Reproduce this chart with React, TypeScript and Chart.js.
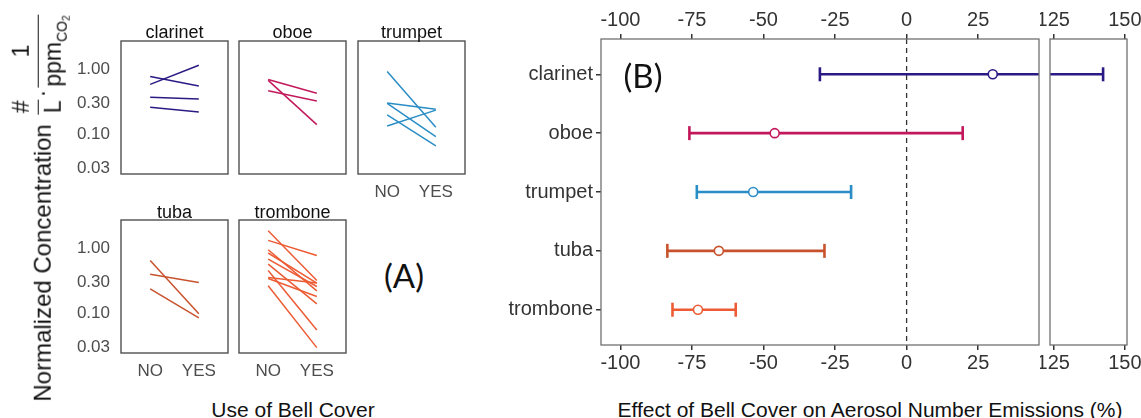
import React, { useEffect, useRef } from "react";
import { Chart, registerables } from "chart.js";

Chart.register(...registerables);

const FONT = "'Liberation Sans', Arial, Helvetica, sans-serif";
Chart.defaults.font.family = FONT;

const instruments = ["clarinet", "oboe", "trumpet", "tuba", "trombone"];
const instrumentColors = ["#2b1a84", "#c2185b", "#2a8dc5", "#c8522c", "#ec5b34"];
const bellCover = ["NO", "YES"];
const concTicks = [1.0, 0.3, 0.1, 0.03];

// Panel A: normalized concentration without (NO) and with (YES) bell cover
const clarinetNo = [0.78, 0.59, 0.374, 0.263];
const clarinetYes = [0.556, 1.16, 0.352, 0.221];
const oboeNo = [0.7, 0.47, 0.68];
const oboeYes = [0.43, 0.327, 0.142];
const trumpetNo = [0.93, 0.306, 0.3, 0.2, 0.135];
const trumpetYes = [0.129, 0.245, 0.093, 0.067, 0.237];
const tubaNo = [0.65, 0.4, 0.24];
const tubaYes = [0.099, 0.3, 0.086];
const tromboneNo = [1.87, 1.33, 0.955, 0.85, 0.687, 0.575, 0.459, 0.358, 0.346, 0.267];
const tromboneYes = [0.322, 0.78, 0.223, 0.294, 0.26, 0.141, 0.056, 0.294, 0.183, 0.03];

// Panel B: effect of bell cover (%)
const effectEstimate = [30.1, -46.1, -53.6, -65.6, -72.9];
const effectLower = [-30.3, -75.9, -73.3, -83.6, -81.8];
const effectUpper = [142.4, 19.6, -19.4, -28.7, -59.7];
const effectTicksMain = [-100, -75, -50, -25, 0, 25];
const effectTicksBreak = [125, 150];

const framePlugin = {
  id: "frame",
  afterDatasetsDraw(chart: any, _args: any, opts: any) {
    const { ctx, chartArea: a } = chart;
    ctx.save();
    ctx.strokeStyle = opts.color || "#555";
    ctx.lineWidth = opts.width || 1;
    ctx.strokeRect(a.left, a.top, a.right - a.left, a.bottom - a.top);
    ctx.restore();
  },
};

// fix an axis' thickness and stop label overflow from moving the plot area
function fixSize(show: boolean, size: number) {
  return (s: any) => {
    if (!show) return;
    if (s.isHorizontal()) s.height = size;
    else s.width = size;
    s.paddingLeft = 0;
    s.paddingRight = 0;
    s.paddingTop = 0;
    s.paddingBottom = 0;
  };
}

function ChartBox({ left, top, width, height, make }: any) {
  const ref = useRef<HTMLCanvasElement>(null);
  useEffect(() => {
    const chart = new Chart(ref.current as HTMLCanvasElement, make());
    return () => chart.destroy();
  }, []);
  return (
    <div style={{ position: "absolute", left, top, width, height }}>
      <canvas ref={ref} width={width} height={height} style={{ display: "block", width, height }} />
    </div>
  );
}

function Label({ x, y, text, size, color = "#111", family = FONT }: any) {
  return (
    <div
      style={{
        position: "absolute",
        left: x,
        top: y,
        transform: "translate(-50%,-50%)",
        whiteSpace: "nowrap",
        fontSize: size,
        lineHeight: 1,
        color,
        fontFamily: family,
      }}
    >
      {text}
    </div>
  );
}

const ML = 60, MT = 4, MR = 4, MB = 30;
const colLeft = [121, 239, 358];
const rowTop = [41, 220];
const PW = 107, PH = 133;

const panelsA = [
  { name: "clarinet", no: clarinetNo, yes: clarinetYes, col: 0, row: 0, showX: false, showY: true },
  { name: "oboe", no: oboeNo, yes: oboeYes, col: 1, row: 0, showX: false, showY: false },
  { name: "trumpet", no: trumpetNo, yes: trumpetYes, col: 2, row: 0, showX: true, showY: false },
  { name: "tuba", no: tubaNo, yes: tubaYes, col: 0, row: 1, showX: true, showY: true },
  { name: "trombone", no: tromboneNo, yes: tromboneYes, col: 1, row: 1, showX: true, showY: false },
];

function panelAConfig(p: any) {
  const color = instrumentColors[instruments.indexOf(p.name)];
  return {
    type: "scatter",
    data: {
      datasets: p.no.map((v: number, i: number) => ({
        data: [
          { x: 0, y: v },
          { x: 1, y: p.yes[i] },
        ],
        showLine: true,
        borderColor: color,
        borderWidth: 1.5,
        pointRadius: 0,
      })),
    },
    options: {
      responsive: false,
      animation: false,
      events: [],
      layout: {
        padding: { left: p.showY ? 0 : MT, top: MT, right: MR, bottom: p.showX ? 0 : MT },
      },
      plugins: {
        legend: { display: false },
        tooltip: { enabled: false },
        frame: { color: "#505050", width: 1.4 },
      },
      scales: {
        x: {
          type: "linear",
          min: -0.6,
          max: 1.6,
          display: p.showX,
          afterBuildTicks: (s: any) => {
            s.ticks = [0, 1].map((v) => ({ value: v }));
          },
          afterFit: fixSize(p.showX, MB),
          ticks: {
            callback: (v: any) => bellCover[v],
            font: { size: 17 },
            color: "#4d4d4d",
            padding: 8,
            maxRotation: 0,
            minRotation: 0,
            autoSkip: false,
          },
          grid: { display: false, drawTicks: false },
          border: { display: false },
        },
        y: {
          type: "logarithmic",
          min: 0.0248,
          max: 2.73,
          display: p.showY,
          afterBuildTicks: (s: any) => {
            s.ticks = concTicks.map((v) => ({ value: v }));
          },
          afterFit: fixSize(p.showY, ML),
          ticks: {
            callback: (v: any) => Number(v).toFixed(2),
            font: { size: 17 },
            color: "#4d4d4d",
            padding: 11,
            autoSkip: false,
          },
          grid: { display: false, drawTicks: false },
          border: { display: false },
        },
      },
    },
    plugins: [framePlugin],
  };
}

function panelBDatasets() {
  const ds: any[] = [
    {
      data: [
        { x: 0, y: 0.4 },
        { x: 0, y: 5.6 },
      ],
      showLine: true,
      borderColor: "#333",
      borderWidth: 1.3,
      borderDash: [5, 4],
      pointRadius: 0,
      order: 4,
    },
  ];
  instruments.forEach((_name, i) => {
    const c = instrumentColors[i];
    const y = i + 1;
    ds.push({
      data: [
        { x: effectLower[i], y },
        { x: effectUpper[i], y },
      ],
      showLine: true,
      borderColor: c,
      borderWidth: 2.6,
      pointRadius: 0,
      order: 3,
    });
    ds.push({
      data: [
        { x: effectLower[i], y },
        { x: effectUpper[i], y },
      ],
      showLine: false,
      pointStyle: "line",
      pointRotation: 90,
      pointRadius: 7,
      pointBorderWidth: 2.6,
      pointBorderColor: c,
      order: 2,
    });
    ds.push({
      data: [{ x: effectEstimate[i], y }],
      showLine: false,
      pointStyle: "circle",
      pointRadius: 4.5,
      pointBorderWidth: 1.6,
      pointBorderColor: c,
      pointBackgroundColor: "#ffffff",
      order: 1,
    });
  });
  return ds;
}

function panelBConfig(ticks: number[], min: number, max: number, showY: boolean, padL: number, padR: number) {
  const xAxis = (position: string, h: number, pad: number) => ({
    type: "linear",
    position,
    min,
    max,
    afterBuildTicks: (s: any) => {
      s.ticks = ticks.map((v) => ({ value: v }));
    },
    afterFit: fixSize(true, h),
    ticks: {
      font: { size: 20 },
      color: "#333",
      padding: pad,
      maxRotation: 0,
      minRotation: 0,
      autoSkip: false,
      callback: (v: any) => String(v),
    },
    grid: { display: true, drawOnChartArea: false, drawTicks: true, tickLength: 5, color: "#333", lineWidth: 1.5 },
    border: { display: false },
  });
  return {
    type: "scatter",
    data: { datasets: panelBDatasets() },
    options: {
      responsive: false,
      animation: false,
      events: [],
      layout: { padding: { left: padL, right: padR, top: 0, bottom: 0 } },
      plugins: {
        legend: { display: false },
        tooltip: { enabled: false },
        frame: { color: "#707070", width: 1.3 },
      },
      scales: {
        x: xAxis("bottom", 45, 1),
        x2: xAxis("top", 39, 2),
        y: {
          type: "linear",
          reverse: true,
          min: 0.4,
          max: 5.6,
          display: showY,
          afterBuildTicks: (s: any) => {
            s.ticks = instruments.map((_n, i) => ({ value: i + 1 }));
          },
          afterFit: fixSize(showY, 101),
          ticks: {
            font: { size: 20 },
            color: "#333",
            padding: 3,
            autoSkip: false,
            callback: (v: any) => instruments[v - 1],
          },
          grid: { display: true, drawOnChartArea: false, drawTicks: true, tickLength: 5, color: "#333", lineWidth: 1.5 },
          border: { display: false },
        },
      },
    },
    plugins: [framePlugin],
  };
}

function Frac({ num, den }: any) {
  return (
    <span style={{ display: "inline-flex", flexDirection: "column", alignItems: "center" }}>
      <span style={{ height: 23, lineHeight: "23px", paddingBottom: 4.5 }}>{num}</span>
      <span style={{ height: 23, lineHeight: "23px", padding: "3px 1px 0", borderTop: "1.5px solid #111" }}>{den}</span>
    </span>
  );
}

function YTitleA() {
  return (
    <div
      style={{
        position: "absolute",
        left: 37,
        top: 208,
        transform: "translate(-50%,-50%) rotate(-90deg)",
        display: "flex",
        alignItems: "center",
        whiteSpace: "nowrap",
        fontSize: 23,
        lineHeight: "23px",
        color: "#111",
        fontFamily: FONT,
      }}
    >
      <span style={{ position: "relative", top: 5, fontSize: 24 }}>Normalized Concentration</span>
      <span style={{ width: 10 }} />
      <Frac num="#" den="L" />
      <span style={{ position: "relative", top: 5, margin: "0 2px" }}>·</span>
      <Frac
        num="1"
        den={
          <span>
            ppm
            <span style={{ fontSize: 14, lineHeight: 1, position: "relative", top: 6 }}>
              CO<span style={{ fontSize: 10, lineHeight: 1, position: "relative", top: 3 }}>2</span>
            </span>
          </span>
        }
      />
    </div>
  );
}

export default function App() {
  return (
    <div
      style={{
        position: "absolute",
        left: 0,
        top: 0,
        width: 1141,
        height: 418,
        background: "#fff",
        overflow: "hidden",
        fontFamily: FONT,
      }}
    >
      {panelsA.map((p) => {
        const l = colLeft[p.col] - (p.showY ? ML : MT);
        const t = rowTop[p.row] - MT;
        const w = PW + (p.showY ? ML : MT) + MR;
        const h = PH + MT + (p.showX ? MB : MT);
        return <ChartBox key={p.name} left={l} top={t} width={w} height={h} make={() => panelAConfig(p)} />;
      })}
      {panelsA.map((p) => (
        <Label
          key={"t" + p.name}
          x={colLeft[p.col] + PW / 2}
          y={p.row === 0 ? 32 : 211.5}
          text={p.name}
          size={18}
          color="#111"
        />
      ))}
      <YTitleA />
      <Label x={293} y={409} text="Use of Bell Cover" size={21} />
      <Label x={404} y={275} text="(A)" size={33} family="Lato, 'Open Sans', sans-serif" />

      <ChartBox
        left={500}
        top={0}
        width={549}
        height={390}
        make={() => panelBConfig(effectTicksMain, -106.78, 46.26, true, 0, 10)}
      />
      <ChartBox
        left={1040}
        top={0}
        width={101}
        height={390}
        make={() => panelBConfig(effectTicksBreak, 123.85, 150.75, false, 10, 14)}
      />
      <Label x={643} y={75} text="(B)" size={33} family="Lato, 'Open Sans', sans-serif" />
      <Label x={870} y={409} text="Effect of Bell Cover on Aerosol Number Emissions (%)" size={21} />
    </div>
  );
}
